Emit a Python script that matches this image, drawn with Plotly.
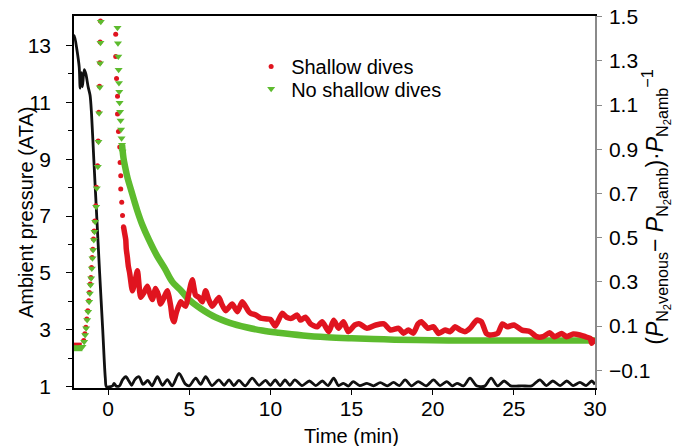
import plotly.graph_objects as go

# ---------------- data ----------------
# Ambient pressure (ATA), left axis
black_t = [-2.10, -2.07, -1.92, -1.78, -1.72, -1.64, -1.58, -1.47, -1.37, -1.23, -1.11, -1.02,
           -0.88, -0.70, -0.52, -0.33, -0.17, -0.10, 0.15, 0.30, 0.37, 0.50, 0.70, 0.90, 1.09,
           1.30, 1.45, 1.65, 1.91, 2.15, 2.45, 2.70, 3.04, 3.35, 3.65, 3.95, 4.37, 4.75, 5.00,
           5.40, 5.70, 6.01, 6.40, 6.83, 7.15, 7.45, 7.75, 8.06, 8.45, 8.88, 9.30, 9.70, 10.0,
           10.3, 10.6, 10.9, 11.2, 11.5, 11.95, 12.4, 12.8, 13.2, 13.55, 13.9, 14.2, 14.5, 14.8,
           15.1, 15.5, 15.95, 16.35, 16.77, 17.2, 17.59, 17.95, 18.3, 18.7, 19.1, 19.6, 20.05,
           20.45, 20.87, 21.2, 21.5, 21.9, 22.3, 22.7, 23.2, 23.6, 24.0, 24.4, 24.8, 25.5, 26.1,
           26.6, 27.0, 27.4, 27.85, 28.26, 28.65, 29.07, 29.45, 29.8, 30.0]
black_v = [13.2, 13.35, 12.85, 12.25, 11.5, 12.05, 11.55, 12.15, 12.0, 11.55, 11.25, 10.6,
           9.0, 7.0, 5.0, 3.0, 1.3, 1.0, 1.0, 1.04, 1.12, 1.02, 1.03, 1.25, 1.35,
           1.18, 1.05, 1.25, 1.35, 1.08, 1.22, 1.03, 1.35, 1.05, 1.25, 1.03, 1.47, 1.10, 1.03,
           1.30, 1.08, 1.35, 1.04, 1.24, 1.05, 1.24, 1.04, 1.22, 1.03, 1.30, 1.05, 1.22, 1.05,
           1.24, 1.04, 1.24, 1.05, 1.24, 1.04, 1.20, 1.04, 1.20, 1.04, 1.30, 1.04, 1.12, 1.02,
           1.18, 1.04, 1.12, 1.03, 1.14, 1.03, 1.15, 1.04, 1.24, 1.03, 1.18, 1.03, 1.24,
           1.04, 1.18, 1.03, 1.12, 1.03, 1.30, 1.03, 1.02, 1.30, 1.03, 1.20, 1.03, 1.03, 1.03,
           1.24, 1.04, 1.20, 1.04, 1.20, 1.04, 1.15, 1.04, 1.20, 1.08]

# Shallow dives (red), right axis
red_pre_t = [-2.10, -1.62]
red_pre_v = [0.014, 0.014]
red_spike_t = [-1.50, -1.43, -1.37, -1.31, -1.25, -1.19, -1.15, -1.10, -1.06, -1.02, -0.98, -0.94,
               -0.90, -0.86, -0.82, -0.76, -0.72, -0.65, -0.61, -0.57, -0.53, -0.51, -0.49, -0.47,
               0.47, 0.47, 0.52, 0.58, 0.58, 0.64, 0.72, 0.74, 0.78, 0.78, 0.84, 0.89, 0.95]
red_spike_v = [0.035, 0.065, 0.095, 0.132, 0.170, 0.215, 0.252, 0.290, 0.320, 0.365, 0.410, 0.448,
               0.494, 0.530, 0.576, 0.644, 0.728, 0.825, 0.938, 1.067, 1.185, 1.292, 1.385, 1.48,
               1.42, 1.32, 1.22, 1.14, 1.06, 0.98, 0.91, 0.84, 0.78, 0.72, 0.66, 0.60, 0.55]
red_tail_t = [0.95, 1.02, 1.09, 1.12, 1.19, 1.25, 1.33, 1.50, 1.65, 1.81, 2.01, 2.20, 2.42, 2.60,
              2.73, 2.93, 3.10, 3.24, 3.45, 3.65, 3.86, 3.95, 4.06, 4.20, 4.47, 4.60, 4.78, 4.95,
              5.10, 5.19, 5.30, 5.39, 5.60, 5.81, 6.01, 6.20, 6.42, 6.83, 7.00, 7.24, 7.65, 7.96,
              8.27, 8.67, 8.79, 9.10, 9.40, 10.0, 10.3, 10.73, 11.0, 11.3, 11.65, 11.85, 12.16,
              12.47, 12.88, 13.19, 13.6, 13.9, 14.2, 14.5, 14.8, 15.2, 15.5, 15.95, 16.5, 17.0,
              17.4, 17.9, 18.2, 18.5, 18.8, 19.1, 19.3, 19.7, 20.05, 20.36, 20.77, 21.08, 21.38,
              21.7, 22.0, 22.3, 22.72, 23.0, 23.3, 23.5, 24.0, 24.3, 24.6, 25.0, 25.5, 26.0, 26.4,
              26.8, 27.2, 27.5, 27.95, 28.25, 28.66, 29.07, 29.4, 29.7, 29.8, 30.0]
red_tail_v = [0.55, 0.52, 0.49, 0.45, 0.41, 0.37, 0.34, 0.26, 0.30, 0.35, 0.23, 0.25, 0.28, 0.24,
              0.22, 0.27, 0.24, 0.20, 0.23, 0.26, 0.19, 0.14, 0.12, 0.16, 0.21, 0.20, 0.19, 0.24,
              0.29, 0.31, 0.27, 0.24, 0.23, 0.21, 0.26, 0.22, 0.19, 0.23, 0.20, 0.17, 0.20, 0.165,
              0.21, 0.165, 0.158, 0.15, 0.136, 0.13, 0.10, 0.158, 0.14, 0.135, 0.15, 0.127, 0.14,
              0.11, 0.097, 0.12, 0.075, 0.127, 0.09, 0.12, 0.075, 0.105, 0.11, 0.09, 0.105, 0.11,
              0.082, 0.09, 0.068, 0.082, 0.068, 0.11, 0.12, 0.09, 0.097, 0.067, 0.082, 0.075, 0.097,
              0.082, 0.075, 0.09, 0.127, 0.12, 0.067, 0.06, 0.067, 0.11, 0.097, 0.105, 0.082, 0.075, 0.052,
              0.052, 0.07, 0.052, 0.067, 0.052, 0.064, 0.06, 0.052, 0.045, 0.022, 0.045]

# No shallow dives (green), right axis
green_pre_t = [-2.10, -1.58]
green_pre_v = [0.0, 0.0]
green_spike_t = [-1.576, -1.474, -1.413, -1.351, -1.290, -1.228, -1.167, -1.125, -1.084, -1.043,
                 -1.002, -0.961, -0.920, -0.879, -0.838, -0.797, -0.736, -0.695, -0.633, -0.592,
                 -0.551, -0.510, -0.490, -0.469, -0.449,
                 0.58, 0.61, 0.63, 0.65, 0.67, 0.69, 0.71, 0.74, 0.77, 0.80, 0.83, 0.86, 0.89]
green_spike_v = [0.007, 0.029, 0.060, 0.090, 0.128, 0.165, 0.210, 0.248, 0.286, 0.316,
                 0.361, 0.407, 0.444, 0.490, 0.527, 0.572, 0.640, 0.724, 0.821, 0.934,
                 1.063, 1.181, 1.289, 1.382, 1.477,
                 1.45, 1.38, 1.32, 1.26, 1.20, 1.16, 1.11, 1.07, 1.03, 0.99, 0.95, 0.92, 0.89]
green_tail_t = [0.86, 0.95, 1.05, 1.2, 1.4, 1.6, 1.81, 2.1, 2.52, 3.0, 3.5, 3.96, 4.5, 4.98, 5.7,
                6.62, 7.5, 8.5, 9.5, 10.5, 12.0, 13.5, 15.0, 17.0, 19.0, 22.0, 25.0, 30.0]
green_tail_v = [0.92, 0.86, 0.82, 0.77, 0.72, 0.67, 0.62, 0.56, 0.49, 0.42, 0.36, 0.30, 0.26, 0.22,
                0.18, 0.14, 0.115, 0.095, 0.08, 0.07, 0.058, 0.05, 0.045, 0.04, 0.037, 0.035, 0.035,
                0.035]

x_ticks = [0, 5, 10, 15, 20, 25, 30]
left_ticks = [1, 3, 5, 7, 9, 11, 13]
left_minor = [2, 4, 6, 8, 10, 12]
right_ticks = [-0.1, 0.1, 0.3, 0.5, 0.7, 0.9, 1.1, 1.3, 1.5]

RED = "#e0141f"
GREEN = "#5dbb2e"
FONT = "Liberation Sans, Arial, sans-serif"

fig = go.Figure()

# ambient pressure (left axis)
fig.add_trace(go.Scatter(x=black_t, y=black_v, mode="lines", yaxis="y",
                         line=dict(color="#111111", width=2.8, shape="spline", smoothing=0.8),
                         showlegend=False, hoverinfo="skip"))

# red: pre band + spike markers (under green)
fig.add_trace(go.Scatter(x=red_pre_t, y=red_pre_v, mode="lines", yaxis="y2",
                         line=dict(color=RED, width=5), showlegend=False))
fig.add_trace(go.Scatter(x=red_spike_t, y=red_spike_v, mode="markers", yaxis="y2",
                         marker=dict(color=RED, size=5, symbol="circle"),
                         name="Shallow dives", showlegend=True, legend="legend"))

# green
fig.add_trace(go.Scatter(x=green_pre_t, y=green_pre_v, mode="lines", yaxis="y2",
                         line=dict(color=GREEN, width=6), showlegend=False))
fig.add_trace(go.Scatter(x=green_tail_t, y=green_tail_v, mode="lines", yaxis="y2",
                         line=dict(color=GREEN, width=6.5, shape="spline"), showlegend=False))
fig.add_trace(go.Scatter(x=green_spike_t, y=green_spike_v, mode="markers", yaxis="y2",
                         marker=dict(color=GREEN, size=7, symbol="triangle-down"),
                         name="No shallow dives", showlegend=True, legend="legend2"))

# red tail on top
fig.add_trace(go.Scatter(x=red_tail_t, y=red_tail_v, mode="lines", yaxis="y2",
                         line=dict(color=RED, width=5.5, shape="spline", smoothing=0.6),
                         showlegend=False))

right_title = ("(<i>P</i><sub>N<sub>2</sub>venous</sub>\u2212 <i>P</i><sub>N<sub>2</sub>amb</sub>)"
               "\u00b7<i>P</i><sub>N<sub>2</sub>amb</sub><sup>\u22121</sup>")

legend_style = dict(xanchor="left", yanchor="top", bgcolor="rgba(0,0,0,0)",
                    font=dict(size=20), itemsizing="trace", tracegroupgap=0)

fig.update_layout(
    width=688, height=446,
    margin=dict(l=74, r=93, t=16, b=58, autoexpand=False),
    paper_bgcolor="white", plot_bgcolor="white",
    font=dict(family=FONT, size=21, color="black"),
    xaxis=dict(range=[-2.1, 30], tickvals=x_ticks, ticks="outside", ticklen=5, tickwidth=1.2,
               tickcolor="black", showline=True, linecolor="black", linewidth=1.5, mirror=True,
               showgrid=False, zeroline=False, automargin=False, ticklabelstandoff=-4),
    yaxis=dict(range=[0.954, 14.04], tickvals=left_ticks, ticks="outside", ticklen=6,
               tickwidth=1.2, tickcolor="black", showline=True, linecolor="black", linewidth=1.5,
               showgrid=False, zeroline=False, ticklabelstandoff=11, automargin=False,
               minor=dict(tickvals=left_minor, ticks="outside", ticklen=4,
                          tickcolor="black", tickwidth=1.2)),
    yaxis2=dict(range=[-0.180, 1.503], overlaying="y", side="right", tickvals=right_ticks,
                tickformat=".1f", ticks="outside", ticklen=5, tickwidth=1.2, tickcolor="#8a8a8a",
                showline=True, linecolor="#8a8a8a", linewidth=1.5, showgrid=False, zeroline=False,
                ticklabelstandoff=3, automargin=False),
    legend=dict(x=0.340, y=0.917, **legend_style),
    legend2=dict(x=0.340, y=0.857, **legend_style),
    annotations=[
        dict(text="Time (min)", xref="paper", yref="paper", x=0.532, y=-0.129,
             xanchor="center", yanchor="middle", showarrow=False, font=dict(size=20)),
        dict(text="Ambient pressure (ATA)", xref="paper", yref="paper", x=-0.092, y=0.473,
             xanchor="center", yanchor="middle", textangle=-90, showarrow=False,
             font=dict(size=20)),
        dict(text=right_title, xref="paper", yref="paper", x=1.117, y=0.487,
             xanchor="center", yanchor="middle", textangle=-90, showarrow=False,
             font=dict(size=23)),
    ],
)

fig.write_html("out.html", include_plotlyjs=True, config={"displayModeBar": False})
